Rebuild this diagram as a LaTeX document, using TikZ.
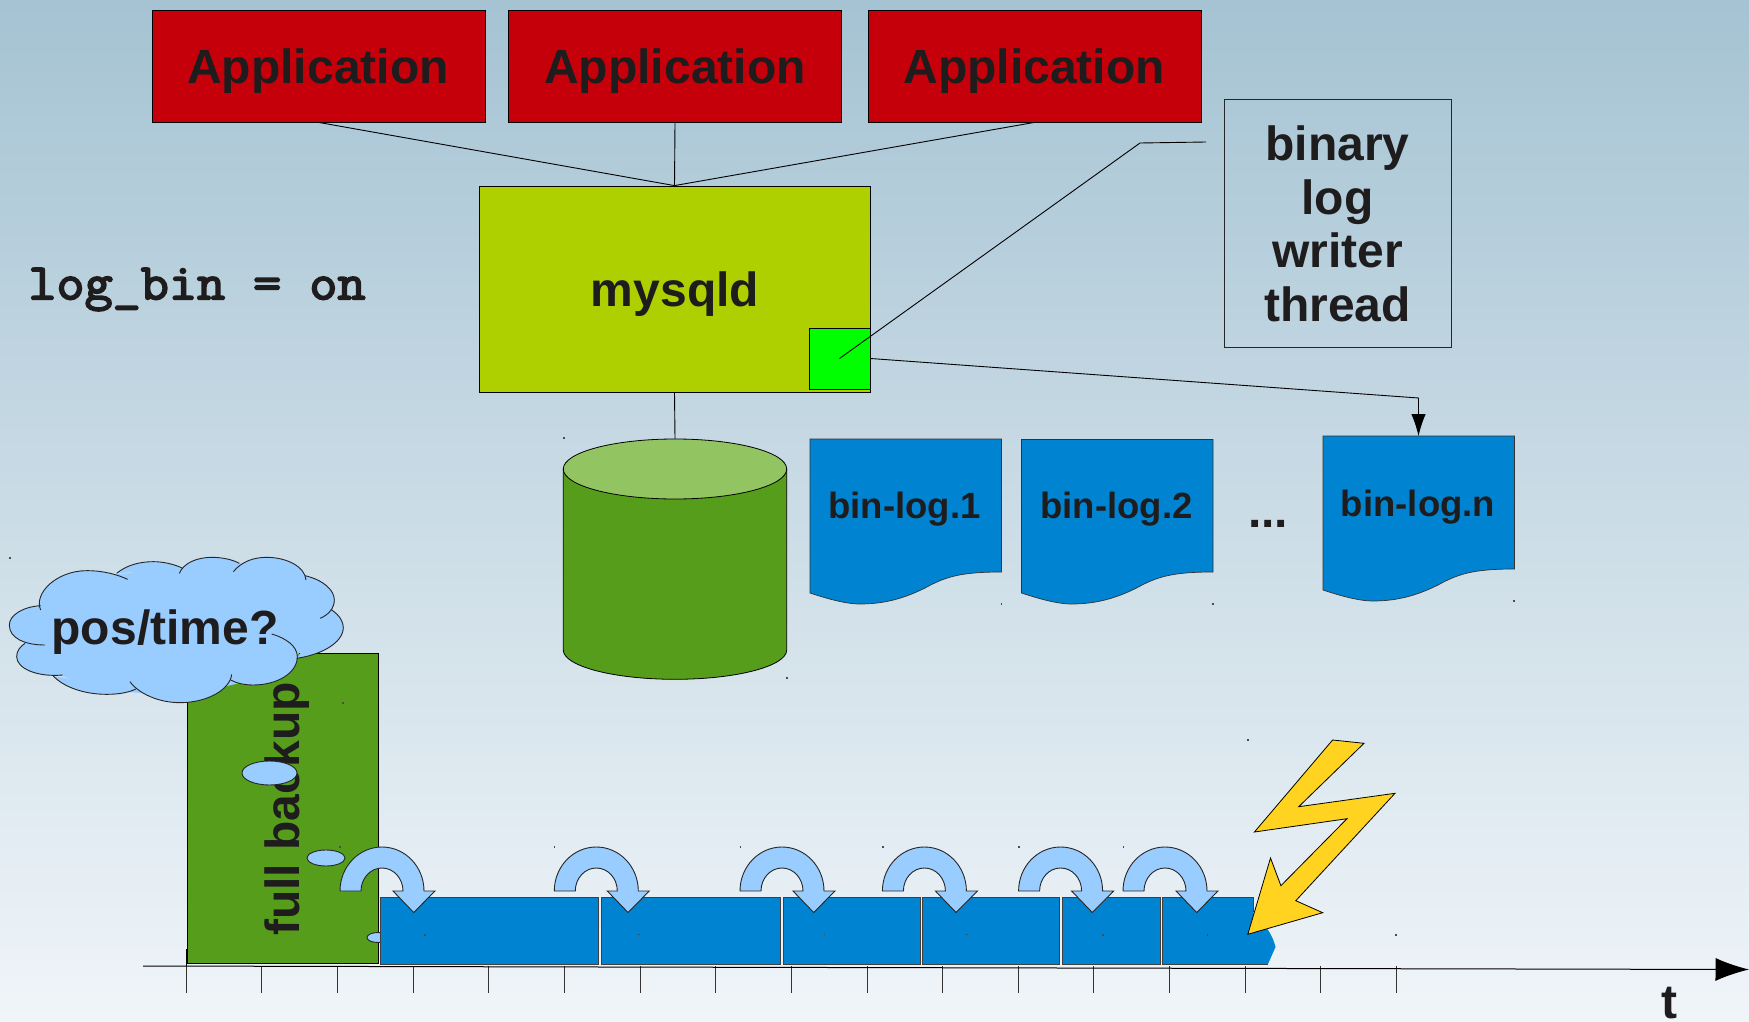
\documentclass[tikz,border=0pt]{standalone}
\usepackage{fontspec}
\setmainfont{Liberation Sans}
\newfontfamily\slabmono[FakeBold=3.5,FakeStretch=1.07]{Latin Modern Mono}
\usetikzlibrary{arrows.meta}
\definecolor{bgtop}{HTML}{A5C3D3}
\definecolor{bgbot}{HTML}{F0F5F9}
\definecolor{appred}{HTML}{C5000B}
\definecolor{lime}{HTML}{AECF00}
\definecolor{brightgreen}{HTML}{00FF00}
\definecolor{logblue}{HTML}{0084D1}
\definecolor{dbgreen}{HTML}{579D1C}
\definecolor{dbtopgreen}{HTML}{92C561}
\definecolor{skyblue}{HTML}{99CCFF}
\definecolor{boltyellow}{HTML}{FFD320}
\definecolor{ink}{HTML}{1E1C1C}
\tikzset{
  bigfont/.style={font=\fontsize{48}{53.5}\selectfont\bfseries,text=ink},
  appbox/.style={draw=black,line width=0.8pt,fill=appred,minimum width=333pt,minimum height=112pt,inner sep=0pt},
  docshape/.style={draw=black!80,line width=0.7pt,fill=logblue},
  doclabel/.style={font=\fontsize{36.5}{40}\selectfont\bfseries,text=ink,inner sep=0pt,anchor=base},
  wire/.style={draw=black,line width=0.9pt},
  seg/.style={draw=black!75,line width=1pt,fill=logblue},
  skyshape/.style={draw=black!85,line width=0.9pt,fill=skyblue},
  tickline/.style={draw=black!80,line width=0.9pt},
  speck/.style={fill=black!70},
  curvearrow/.pic={
    \path[skyshape] (-42,0) .. controls (-42,-24.3) and (-23.2,-44) .. (0,-44)
      .. controls (23.2,-44) and (42,-24.3) .. (42,0) -- (53,0) -- (31.7,21.5) -- (11,0) -- (21,0)
      .. controls (21,-12.7) and (11.6,-23) .. (0,-23)
      .. controls (-11.6,-23) and (-21,-12.7) .. (-21,0) -- cycle;
  }
}
\begin{document}
\begin{tikzpicture}[x=1pt,y=-1pt]
\useasboundingbox (0,0) rectangle (1749,1022);
\fill[top color=bgtop,bottom color=bgbot] (0,0) rectangle (1749,1022);

% top boxes and their links
\node[appbox] (app1) at (318.5,66) {};
\node[appbox] (app2) at (675,66) {};
\node[appbox] (app3) at (1034.5,66) {};
\node[bigfont,inner sep=0pt] (app1label) at (318,71) {Application};
\node[bigfont,inner sep=0pt] (app2label) at (675,71) {Application};
\node[bigfont,inner sep=0pt] (app3label) at (1034,71) {Application};
\node[draw=black,line width=0.8pt,fill=lime,minimum width=391pt,minimum height=206pt,inner sep=0pt] (mysqld) at (674.5,289) {};
\node[bigfont,inner sep=0pt] (mysqldlabel) at (675,294) {mysqld};
\draw[wire] (app1.south) -- (mysqld.north);
\draw[wire] (app2.south) -- (mysqld.north);
\draw[wire] (app3.south) -- (mysqld.north);

% database
\coordinate (dbtop) at (675,439);
\draw[wire] (mysqld.south) -- (dbtop);
\path[draw=black,line width=0.8pt,fill=dbgreen] (563.3,469) -- (563.3,650) .. controls (563.3,666) and (613,679.3) .. (675,679.3) .. controls (737,679.3) and (786.7,666) .. (786.7,650) -- (786.7,469) -- cycle;
\path[draw=black,line width=0.8pt,fill=dbtopgreen] (675,469) ellipse [x radius=111.7,y radius=30];

% thread
\node[draw=black,line width=0.8pt,fill=brightgreen,minimum width=61pt,minimum height=61pt,inner sep=0pt] (writer) at (839.5,358.5) {};
\node[draw=black!85,line width=0.8pt,minimum width=227pt,minimum height=248pt,inner sep=0pt] (binlabel) at (1337.5,223) {};
\node[bigfont,inner sep=0pt,align=center] (binlabeltext) at (1337.5,224) {binary\\log\\writer\\thread};
\coordinate (leaderstart) at (1206,142);
\coordinate (leaderbend) at (1140,143);
\draw[wire] (leaderstart) -- (leaderbend) -- (writer.center);

% log files
\path[docshape] (810,439) -- (1001.5,439) -- (1001.5,572) .. controls (960,572) and (945,577) .. (925,588) .. controls (905,598) and (885,604) .. (860,604) .. controls (845,604) and (825,598) .. (810,593) -- cycle;
\path[docshape] (1021.5,439.5) -- (1213,439.5) -- (1213,572) .. controls (1171.5,572) and (1156.5,577) .. (1136.5,588) .. controls (1116.5,598) and (1096.5,604) .. (1071.5,604) .. controls (1056.5,604) and (1036.5,598) .. (1021.5,593) -- cycle;
\path[docshape] (1323,436) -- (1514.5,436) -- (1514.5,569) .. controls (1473,569) and (1458,574) .. (1438,585) .. controls (1418,595) and (1398,601) .. (1373,601) .. controls (1358,601) and (1338,595) .. (1323,590) -- cycle;
\node[doclabel] (doc1) at (904.5,518) {bin-log.1};
\node[doclabel] (doc2) at (1116.5,518) {bin-log.2};
\node[doclabel] (doc3) at (1418,516) {bin-log.n};
\coordinate (docntop) at (1418.5,436);
\node[bigfont,anchor=base,inner sep=0pt] (dots) at (1268,527) {...};
\coordinate (logbend) at (1418.5,398);
\draw[wire,-{Latex[length=22pt,width=14.5pt]}] (writer.east) -- (logbend) -- (docntop);

\node[anchor=base,inner sep=0pt,text=ink,font=\fontsize{51}{55}\selectfont\slabmono] (logbin) at (197,299.3) {log\_bin = on};

% time axis
\coordinate (axisstart) at (143,966);
\coordinate (axisend) at (1749,969.5);
\foreach \k in {0,...,16}{
  \draw[tickline] ({186.3+75.63*\k},966) -- ({186.3+75.63*\k},993);
}
\draw[draw=black,line width=1pt,-{Latex[length=33.5pt,width=23pt]}] (axisstart) -- (axisend);
\draw[draw=black,line width=1.2pt] (186.6,949) -- (186.6,966);
\node[bigfont,anchor=base,inner sep=0pt] (tlabel) at (1669,1018.5) {t};

% full backup
\node[draw=black,line width=0.9pt,fill=dbgreen,minimum width=191pt,minimum height=310pt,inner sep=0pt] (backup) at (282.5,808) {};
\node[bigfont,rotate=90,anchor=base,inner sep=0pt] (backuplabel) at (299,809) {full backup};

% thought bubbles
\path[skyshape] (269.5,773) ellipse [x radius=27.5,y radius=12];
\path[skyshape] (326,858) ellipse [x radius=19,y radius=8];
\path[skyshape] (378,937.5) ellipse [x radius=11,y radius=5];

% log segments
\path[seg] (380,897) rectangle (598,964);
\path[seg] (601,897) rectangle (780.5,964);
\path[seg] (783,897) rectangle (920,964);
\path[seg] (922.5,897) rectangle (1059.5,964);
\path[seg] (1062,897) rectangle (1160.5,964);
\path[seg,draw=none] (1162.5,897) -- (1253,897) -- (1253,912) -- (1268,930) .. controls (1272,936) and (1274,941) .. (1275.5,947) -- (1268,964) -- (1162.5,964) -- cycle;
\draw[black!75,line width=1pt] (1268,964) -- (1162.5,964) -- (1162.5,897) -- (1253,897) -- (1253,912);

% curved arrows
\foreach \cx in {382,596.3,782,924.4,1060.6,1165}{
  \pic at (\cx,891) {curvearrow};
}

% lightning
\path[draw=black,line width=0.8pt,fill=boltyellow] (1332.6,740) -- (1364,743.3) -- (1298.7,806.7) -- (1395,793.3) -- (1295.8,900.7) -- (1322.7,912.7) -- (1247.8,934.3) -- (1270.5,858) -- (1280.9,885.7) -- (1347,818.7) -- (1254.4,832) -- cycle;

% cloud
\begin{scope}[shift={(0,540)},x=0.33333pt,y=-0.33333pt]
\fill[skyblue] (122,210) -- (260,110) -- (383,100) -- (460,85) -- (548,85) -- (635,70) -- (718,70) -- (800,70) -- (918,120) -- (990,180) -- (1015,262) -- (890,345) -- (880,350) -- (760,420) -- (540,470) -- (320,450) -- (160,400) -- (70,350) -- (75,310) -- (135,315) -- (45,255) -- cycle;
\fill[skyblue] (122,210) .. controls (100,160) and (170,92) .. (260,92) .. controls (310,92) and (350,103) .. (383,118) -- cycle;
\fill[skyblue] (350,100) .. controls (380,75) and (420,65) .. (460,65) .. controls (490,65) and (525,73) .. (548,85) -- cycle;
\fill[skyblue] (538,100) .. controls (550,70) and (590,52) .. (635,52) .. controls (670,52) and (700,60) .. (718,70) -- cycle;
\fill[skyblue] (700,95) .. controls (725,65) and (760,52) .. (800,52) .. controls (860,52) and (915,80) .. (918,120) -- cycle;
\fill[skyblue] (915,107) .. controls (970,120) and (1003,150) .. (1003,180) .. controls (1003,205) and (985,225) .. (960,235) -- cycle;
\fill[skyblue] (995,210) .. controls (1018,225) and (1030,245) .. (1030,262) .. controls (1030,310) and (960,345) .. (890,355) -- cycle;
\fill[skyblue] (815,282) .. controls (860,295) and (892,320) .. (892,350) .. controls (892,400) and (830,435) .. (760,435) .. controls (735,435) and (710,430) .. (692,420) -- cycle;
\fill[skyblue] (695,403) .. controls (690,450) and (620,488) .. (540,488) .. controls (475,488) and (415,460) .. (390,425) -- cycle;
\fill[skyblue] (408,447) .. controls (385,458) and (355,463) .. (320,463) .. controls (250,463) and (190,440) .. (160,408) -- cycle;
\fill[skyblue] (188,405) .. controls (110,412) and (50,385) .. (50,350) .. controls (50,333) and (60,320) .. (75,310) -- cycle;
\fill[skyblue] (135,315) .. controls (75,315) and (28,295) .. (28,255) .. controls (28,225) and (70,200) .. (122,197) -- cycle;
\begin{scope}[draw=black!85,line width=0.9pt]
\draw (122,210) .. controls (100,160) and (170,92) .. (260,92) .. controls (310,92) and (350,103) .. (383,118);
\draw (350,100) .. controls (380,75) and (420,65) .. (460,65) .. controls (490,65) and (525,73) .. (548,85);
\draw (538,100) .. controls (550,70) and (590,52) .. (635,52) .. controls (670,52) and (700,60) .. (718,70);
\draw (700,95) .. controls (725,65) and (760,52) .. (800,52) .. controls (860,52) and (915,80) .. (918,120);
\draw (915,107) .. controls (970,120) and (1003,150) .. (1003,180) .. controls (1003,205) and (985,225) .. (960,235);
\draw (995,210) .. controls (1018,225) and (1030,245) .. (1030,262) .. controls (1030,310) and (960,345) .. (890,355);
\draw (815,282) .. controls (860,295) and (892,320) .. (892,350) .. controls (892,400) and (830,435) .. (760,435) .. controls (735,435) and (710,430) .. (692,420);
\draw (695,403) .. controls (690,450) and (620,488) .. (540,488) .. controls (475,488) and (415,460) .. (390,425);
\draw (408,447) .. controls (385,458) and (355,463) .. (320,463) .. controls (250,463) and (190,440) .. (160,408);
\draw (188,405) .. controls (110,412) and (50,385) .. (50,350) .. controls (50,333) and (60,320) .. (75,310);
\draw (135,315) .. controls (75,315) and (28,295) .. (28,255) .. controls (28,225) and (70,200) .. (122,197);
\end{scope}
\end{scope}
\node[bigfont,anchor=base,inner sep=0pt] (cloudlabel) at (165,644) {pos/time?};

% specks
\foreach \sx/\sy in {10/558,343/703,340/847,425/935,1001.5/604,1213/604,1514/601,564/438,787/678,1248/740,1123.6/847,1103/935,1207.6/935,1396/935,554.7/847,740.4/847,882.8/847,1019/847,639/934.3,824.4/934.3,966.8/934.3}{
  \fill[speck] (\sx-0.7,\sy-0.7) rectangle (\sx+0.7,\sy+0.7);
}
\end{tikzpicture}
\end{document}
